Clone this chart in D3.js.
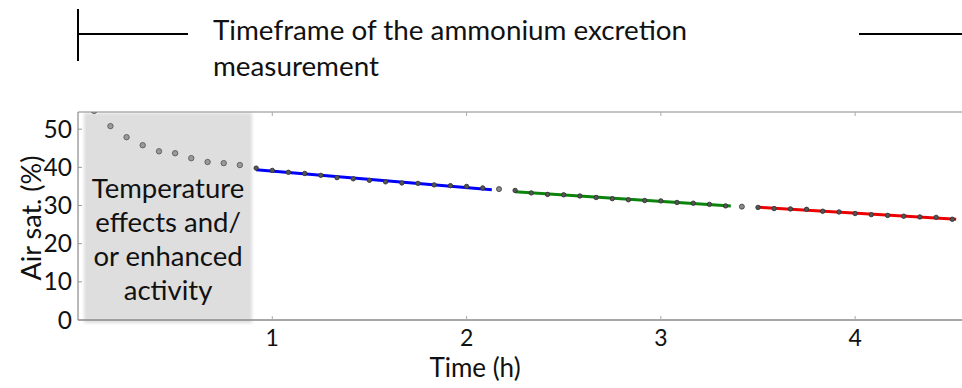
<!DOCTYPE html>
<html>
<head>
<meta charset="utf-8">
<script src="https://cdn.jsdelivr.net/npm/d3@7"></script>
<style>
  html, body { margin: 0; padding: 0; background: #fff; }
  svg { display: block; }
  text { font-family: Lato, "Open Sans", sans-serif; fill: #111; }
</style>
</head>
<body>
<svg id="chart" width="962" height="388"></svg>
<script>
// ---------- DATA ----------
// Time in hours (measurements every 5 min)
const preTimes = [0.083, 0.167, 0.250, 0.333, 0.417, 0.500, 0.583, 0.667, 0.750, 0.833];
const preValues = [54.8, 50.8, 47.9, 45.8, 44.2, 43.7, 42.4, 41.4, 41.1, 40.6];

const blueTimes = [0.917, 1.000, 1.083, 1.167, 1.250, 1.333, 1.417, 1.500, 1.583, 1.667, 1.750, 1.833, 1.917, 2.000, 2.083];
const blueValues = [39.8, 39.2, 38.7, 38.4, 37.9, 37.3, 37.0, 36.6, 36.2, 35.9, 35.8, 35.4, 35.2, 35.0, 34.6];

const gap1Times = [2.167];
const gap1Values = [34.3];

const greenTimes = [2.250, 2.333, 2.417, 2.500, 2.583, 2.667, 2.750, 2.833, 2.917, 3.000, 3.083, 3.167, 3.250, 3.333];
const greenValues = [33.95, 33.3, 32.9, 32.8, 32.5, 32.1, 31.8, 31.5, 31.3, 31.2, 30.8, 30.6, 30.3, 29.9];

const gap2Times = [3.417];
const gap2Values = [29.7];

const redTimes = [3.500, 3.583, 3.667, 3.750, 3.833, 3.917, 4.000, 4.083, 4.167, 4.250, 4.333, 4.417, 4.500];
const redValues = [29.5, 29.2, 29.1, 29.0, 28.5, 28.3, 27.9, 27.6, 27.4, 27.2, 27.0, 26.9, 26.4];

// Fit line extents (hours)
const fitRanges = [[0.917, 2.13], [2.25, 3.36], [3.5, 4.52]];
const fitColors = ["#0000ff", "#0a840a", "#ee0000"];

const xTicks = [1, 2, 3, 4];
const yTicks = [0, 10, 20, 30, 40, 50];
const xDomain = [0, 4.55];
const yDomain = [0, 54.5];
const shadeRange = [0.031, 0.896];

const titleLines = ["Timeframe of the ammonium excretion", "measurement"];
const shadeLines = ["Temperature", "effects and/", "or enhanced", "activity"];
const xLabel = "Time (h)";
const yLabel = "Air sat. (%)";

// ---------- DRAW ----------
const svg = d3.select("#chart");
const L = 78, R = 962, T = 112, B = 320;
const x = d3.scaleLinear().domain(xDomain).range([L, R]);
const y = d3.scaleLinear().domain(yDomain).range([B, T]);

const defs = svg.append("defs");
defs.append("clipPath").attr("id", "plotClip")
  .append("rect").attr("x", L).attr("y", T).attr("width", R - L).attr("height", B - T);
const blur = defs.append("filter").attr("id", "soft").attr("x", "-10%").attr("y", "-10%").attr("width", "120%").attr("height", "120%");
blur.append("feGaussianBlur").attr("stdDeviation", 1.6);

// inner y ticks (under the shade)
svg.append("g").selectAll("line").data(yTicks.slice(1)).join("line")
  .attr("x1", L).attr("x2", L + 4)
  .attr("y1", d => y(d)).attr("y2", d => y(d))
  .attr("stroke", "#999").attr("stroke-width", 1);

// shaded region
svg.append("rect")
  .attr("x", x(shadeRange[0])).attr("y", T + 1)
  .attr("width", x(shadeRange[1]) - x(shadeRange[0]))
  .attr("height", B - T + 2)
  .attr("fill", "#dedede")
  .attr("filter", "url(#soft)");

// axes frame
const axisColor = "#8a8a8a";
svg.append("line").attr("x1", L).attr("x2", R).attr("y1", B).attr("y2", B)
  .attr("stroke", axisColor).attr("stroke-width", 1.6);
svg.append("line").attr("x1", L).attr("x2", R).attr("y1", T).attr("y2", T)
  .attr("stroke", axisColor).attr("stroke-width", 1);
svg.append("line").attr("x1", L).attr("x2", L).attr("y1", T).attr("y2", B)
  .attr("stroke", axisColor).attr("stroke-width", 1.2);

// x ticks bottom (inward) and top (inward)
svg.append("g").selectAll("line").data(xTicks).join("line")
  .attr("x1", d => x(d)).attr("x2", d => x(d))
  .attr("y1", B).attr("y2", B - 4)
  .attr("stroke", "#aaa").attr("stroke-width", 1);
svg.append("g").selectAll("line").data(xTicks).join("line")
  .attr("x1", d => x(d)).attr("x2", d => x(d))
  .attr("y1", T).attr("y2", T + 4)
  .attr("stroke", "#aaa").attr("stroke-width", 1);

// tick labels
svg.append("g").selectAll("text").data(xTicks).join("text")
  .attr("x", d => x(d)).attr("y", 346)
  .attr("text-anchor", "middle").attr("font-size", 23)
  .text(d => d);
svg.append("g").selectAll("text").data(yTicks).join("text")
  .attr("x", 72).attr("y", d => y(d) + 8.5)
  .attr("text-anchor", "end").attr("font-size", 24.5)
  .text(d => d);

// axis titles
svg.append("text").attr("x", 475).attr("y", 377)
  .attr("text-anchor", "middle").attr("font-size", 26).text(xLabel);
svg.append("text")
  .attr("transform", "translate(41,218) rotate(-90)")
  .attr("text-anchor", "middle").attr("font-size", 27).text(yLabel);

// shade text
svg.append("g").selectAll("text").data(shadeLines).join("text")
  .attr("x", (x(shadeRange[0]) + x(shadeRange[1])) / 2)
  .attr("y", (d, i) => 198 + i * 34)
  .attr("text-anchor", "middle").attr("font-size", 27.5)
  .text(d => d);

// data layer (clipped)
const plot = svg.append("g").attr("clip-path", "url(#plotClip)");

function fit(ts, vs) {
  const mt = d3.mean(ts), mv = d3.mean(vs);
  let num = 0, den = 0;
  ts.forEach((t, i) => { num += (t - mt) * (vs[i] - mv); den += (t - mt) * (t - mt); });
  const b = num / den;
  return t => mv + b * (t - mt);
}
const segs = [[blueTimes, blueValues], [greenTimes, greenValues], [redTimes, redValues]];
segs.forEach(([ts, vs], i) => {
  const f = fit(ts, vs);
  const r = fitRanges[i];
  plot.append("line")
    .attr("x1", x(r[0])).attr("y1", y(f(r[0])))
    .attr("x2", x(r[1])).attr("y2", y(f(r[1])))
    .attr("stroke", fitColors[i]).attr("stroke-width", 3)
    .attr("stroke-linecap", "butt");
});

function dots(ts, vs, fill, stroke, r) {
  plot.append("g").selectAll("circle").data(ts).join("circle")
    .attr("cx", d => x(d)).attr("cy", (d, i) => y(vs[i]))
    .attr("r", r).attr("fill", fill).attr("stroke", stroke).attr("stroke-width", 0.9);
}
dots(preTimes, preValues, "#9a9a9a", "#5a5a5a", 2.7);
dots(gap1Times, gap1Values, "#8a8a8a", "#444", 2.5);
dots(gap2Times, gap2Values, "#8a8a8a", "#444", 2.5);
dots(blueTimes, blueValues, "#555", "#333", 2.2);
dots(greenTimes, greenValues, "#555", "#333", 2.2);
dots(redTimes, redValues, "#555", "#333", 2.2);

// title bracket
svg.append("line").attr("x1", 78).attr("x2", 78).attr("y1", 9).attr("y2", 61)
  .attr("stroke", "#000").attr("stroke-width", 2);
svg.append("line").attr("x1", 78).attr("x2", 188).attr("y1", 34).attr("y2", 34)
  .attr("stroke", "#000").attr("stroke-width", 2);
svg.append("line").attr("x1", 859).attr("x2", 962).attr("y1", 34).attr("y2", 34)
  .attr("stroke", "#000").attr("stroke-width", 2);
svg.append("g").selectAll("text").data(titleLines).join("text")
  .attr("x", 213).attr("y", (d, i) => 40 + i * 36)
  .attr("font-size", 27.8)
  .text(d => d);
</script>
</body>
</html>
